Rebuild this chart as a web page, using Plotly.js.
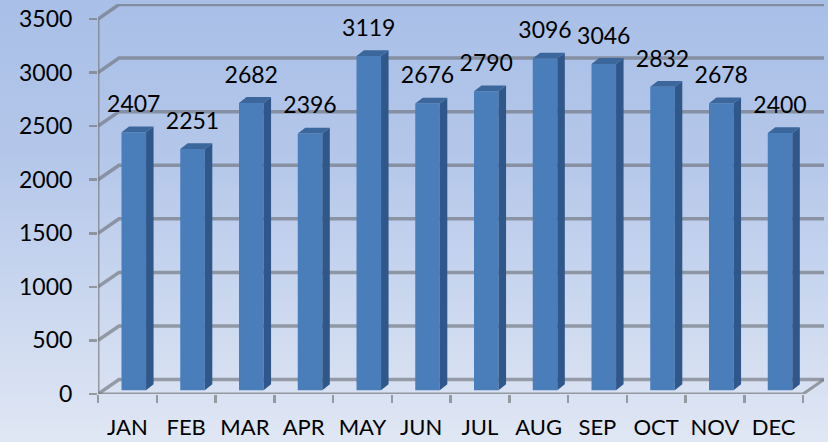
<!DOCTYPE html>
<html>
<head>
<meta charset="utf-8">
<script src="https://cdn.plot.ly/plotly-3.0.1.min.js"></script>
<style>
html,body{margin:0;padding:0;width:828px;height:442px;overflow:hidden;background:linear-gradient(to bottom,#a9bfe7 0%,#b4c7ea 35%,#e0e7f4 100%);}
#chart{width:828px;height:442px;}
</style>
</head>
<body>
<div id="chart"></div>
<script>
var months = ['JAN','FEB','MAR','APR','MAY','JUN','JUL','AUG','SEP','OCT','NOV','DEC'];
var sales = [2407,2251,2682,2396,3119,2676,2790,3096,3046,2832,2678,2400];
var yTicks = [0,500,1000,1500,2000,2500,3000,3500];

var yMax = 3640, xLeft = -0.5, xRight = 11.5, wallDx = 21/58.75, wallDy = 135;
var shift = 0.109, halfBar = 0.209, base = 35, sideDx = 7.5/58.75, sideDy = 55, labelLift = 170;
var gridColor = 'rgba(105,108,115,0.6)', axisColor = 'rgba(120,122,126,0.7)';
var idx = months.map(function(_, i){ return i; });

var traces = [];
// back wall gridlines
yTicks.forEach(function(v){
  traces.push({type:'scatter',mode:'lines',x:[xLeft,xLeft+wallDx,xRight+wallDx],y:[v,v+wallDy,v+wallDy],
    line:{color:gridColor,width:3.5},cliponaxis:false,hoverinfo:'skip',showlegend:false});
});
// floor outline
traces.push({type:'scatter',mode:'lines',x:[xLeft,xRight,xRight+wallDx],y:[0,0,wallDy],
  line:{color:axisColor,width:3},cliponaxis:false,hoverinfo:'skip',showlegend:false});
// front value axis
traces.push({type:'scatter',mode:'lines',x:[xLeft,xLeft],y:[0,3500],
  line:{color:axisColor,width:3},cliponaxis:false,hoverinfo:'skip',showlegend:false});

// bar front faces
traces.push({type:'bar',x:idx.map(function(i){return i+shift;}),y:sales,base:base,
  width:halfBar*2,marker:{color:'#4a7ebb',line:{width:0}},xaxis:'x2',yaxis:'y2',hoverinfo:'skip',showlegend:false});

// bar side and top faces
var sx=[],sy=[],tx=[],ty=[];
sales.forEach(function(v,i){
  var r=i+shift+halfBar, l=i+shift-halfBar, t=v+base;
  sx.push(r,r+sideDx,r+sideDx,r,null); sy.push(base,base+sideDy,t+sideDy,t,null);
  tx.push(l,r,r+sideDx,l+sideDx,null); ty.push(t,t,t+sideDy,t+sideDy,null);
});
traces.push({type:'scatter',mode:'none',x:sx,y:sy,fill:'toself',fillcolor:'#30578a',xaxis:'x2',yaxis:'y2',cliponaxis:false,hoverinfo:'skip',showlegend:false});
traces.push({type:'scatter',mode:'none',x:tx,y:ty,fill:'toself',fillcolor:'#3b679c',xaxis:'x2',yaxis:'y2',cliponaxis:false,hoverinfo:'skip',showlegend:false});

// data labels
traces.push({type:'scatter',mode:'text',x:idx.map(function(i){return i+shift;}),y:sales.map(function(v){return v+labelLift;}),
  text:sales.map(String),textposition:'top center',textfont:{family:'Lato, Carlito, sans-serif',size:23,color:'#000'},
  xaxis:'x2',yaxis:'y2',cliponaxis:false,hoverinfo:'skip',showlegend:false});

var xr=[xLeft,xRight+wallDx], yr=[0,yMax];
var boundaries = months.map(function(_, i){ return i-0.5; }).concat([xRight]);
var layout = {
  width:828,height:442,autosize:false,
  paper_bgcolor:'rgba(0,0,0,0)',plot_bgcolor:'rgba(0,0,0,0)',
  margin:{l:98,r:4,t:4,b:48,pad:0},
  showlegend:false,
  font:{family:'Lato, Carlito, sans-serif',size:22,color:'#000'},
  xaxis:{range:xr,tickmode:'array',tickvals:idx,ticktext:months,ticks:'',showgrid:false,zeroline:false,showline:false,
    ticklabelstandoff:18,tickfont:{size:22},
    minor:{tickmode:'array',tickvals:boundaries,ticks:'outside',ticklen:8,tickwidth:2.5,tickcolor:axisColor,showgrid:false}},
  yaxis:{range:yr,tickmode:'array',tickvals:yTicks,ticks:'outside',ticklen:8,tickwidth:2.5,tickcolor:axisColor,
    showgrid:false,zeroline:false,showline:false,ticklabelstandoff:12,tickfont:{size:23}},
  xaxis2:{range:xr,overlaying:'x',visible:false,anchor:'y2'},
  yaxis2:{range:yr,overlaying:'y',visible:false,anchor:'x2'}
};
Plotly.newPlot('chart',traces,layout,{staticPlot:true,displayModeBar:false});
</script>
</body>
</html>
